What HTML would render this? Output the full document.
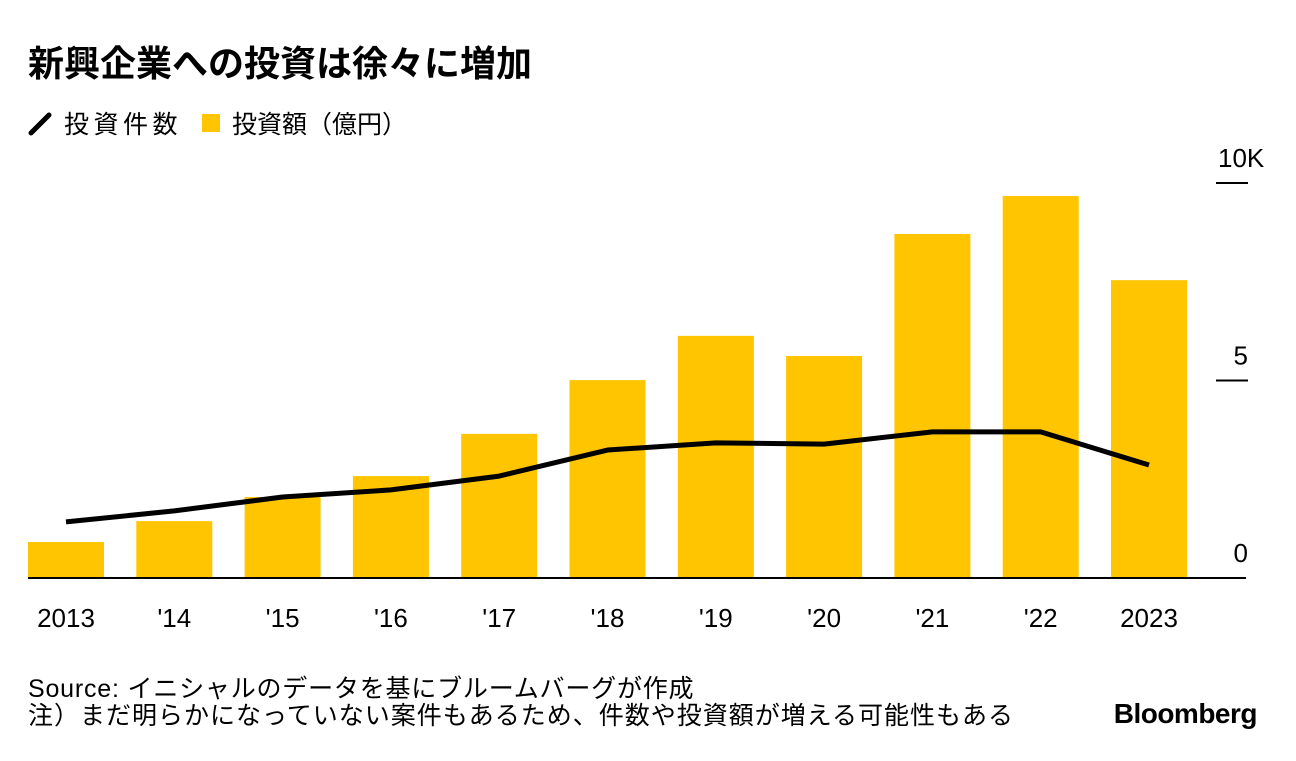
<!DOCTYPE html>
<html><head><meta charset="utf-8"><style>
body{margin:0;background:#fff;width:1296px;height:756px;overflow:hidden;font-family:"Liberation Sans","Noto Sans CJK JP",sans-serif;color:#000}
</style></head><body>
<svg width="1296" height="756" xmlns="http://www.w3.org/2000/svg" font-family="Liberation Sans, Noto Sans CJK JP, sans-serif">
<text x="28" y="76" font-size="36" font-weight="bold">新興企業への投資は徐々に増加</text>
<g>
<line x1="31" y1="133" x2="49" y2="115" stroke="#000" stroke-width="5" stroke-linecap="round"/>
<text x="64" y="133" font-size="25" letter-spacing="4.5">投資件数</text>
<rect x="202" y="114" width="18" height="18" fill="#ffc500"/>
<text x="232" y="133" font-size="25">投資額（億円）</text>
</g>
<g id="plot"></g>
<text x="28" y="697" font-size="25" letter-spacing="0.8">Source: イニシャルのデータを基にブルームバーグが作成</text>
<text x="28" y="724" font-size="25" letter-spacing="1">注）まだ明らかになっていない案件もあるため、件数や投資額が増える可能性もある</text>
<text x="1257" y="723" font-size="28" font-weight="bold" text-anchor="end" letter-spacing="-0.5">Bloomberg</text>
</svg>
<script>
const categories=["2013","'14","'15","'16","'17","'18","'19","'20","'21","'22","2023"];
const amounts=[0.91,1.44,2.05,2.58,3.65,5.01,6.13,5.62,8.71,9.67,7.54];
const counts=[1.42,1.70,2.05,2.23,2.58,3.24,3.42,3.39,3.70,3.70,2.86];
const ticks=[0,5,10];
const tickLabels=["0","5","10K"];
const NS="http://www.w3.org/2000/svg";
const g=document.getElementById('plot');
const y=v=>578-v*39.5;
const x=i=>66+i*108.3;
function mk(t,a){const e=document.createElementNS(NS,t);for(const k in a)e.setAttribute(k,a[k]);g.appendChild(e);return e;}
amounts.forEach((v,i)=>{
 const r=mk('rect',{x:x(i)-38,y:y(v),width:76,height:578-y(v),fill:'#ffc500'});
 
 
 const t=mk('text',{x:x(i),y:627,'font-size':26,'text-anchor':'middle'});t.textContent=categories[i];
 
 
});
ticks.forEach((v,i)=>{
 if(v>0){const l=mk('line',{x1:1216,x2:1248,y1:y(v),y2:y(v),stroke:'#000','stroke-width':2});
 
 }
 const t=mk('text',{x:1248,y:y(v)-16,'font-size':26,'text-anchor':'end'});
 if(tickLabels[i]==="10K"){t.setAttribute('text-anchor','start');t.setAttribute('x',1218);}
 t.textContent=tickLabels[i];
 
 
});
const base=mk('line',{x1:28,x2:1246,y1:578,y2:578,stroke:'#000','stroke-width':2});


const p=mk('polyline',{points:counts.map((v,i)=>x(i)+','+y(v)).join(' '),fill:'none',stroke:'#000','stroke-width':5,'stroke-linejoin':'round'});


</script>
</body></html>
